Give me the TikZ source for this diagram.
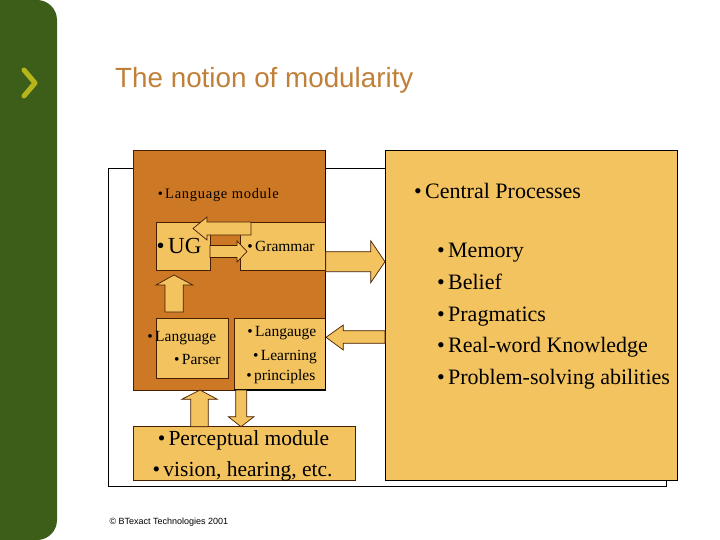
\documentclass[tikz,border=0pt]{standalone}
\usepackage{fontspec}
\setmainfont{Liberation Serif}
\newfontfamily\arialf{Liberation Sans}
\newfontfamily\spacedserif[LetterSpace=5]{Liberation Serif}
\definecolor{sidegreen}{RGB}{60,94,24}
\definecolor{chev}{RGB}{182,182,28}
\definecolor{titlecol}{RGB}{192,128,58}
\definecolor{modcol}{RGB}{204,120,36}
\definecolor{lightbox}{RGB}{243,195,96}
\definecolor{edgecol}{RGB}{70,30,0}
\newcommand\bul{\llap{\textbullet\hspace{0.15em}}}
\tikzset{
  blk/.style={fill=lightbox, draw=edgecol, line width=0.7pt, line join=miter},
  box/.style={fill=lightbox, draw=edgecol, line width=0.7pt},
  txt/.style={inner sep=0pt, anchor=base west, text=black},
}
\begin{document}
\begin{tikzpicture}[x=1pt,y=-1pt]
\useasboundingbox (0,0) rectangle (720,540);
\fill[white] (0,0) rectangle (720,540);
% sidebar
\fill[sidegreen, rounded corners=20pt] (-40,0) rectangle (57,540);
\draw[chev, line width=5pt, line cap=round, line join=round] (24,70) -- (35,83) -- (24,96);
% title
\node[txt, text=titlecol, font=\arialf\fontsize{27.8}{30}\selectfont] (title) at (115,87.3) {The notion of modularity};
% outer frame
\draw[black, line width=0.8pt] (108,168) rectangle (666,486);
% language module
\filldraw[fill=modcol, draw=edgecol, line width=0.7pt] (133,150) rectangle (325.7,390);
% central processes
\filldraw[fill=lightbox, draw=black, line width=0.8pt] (385,150) rectangle (677.7,480);
% inner boxes
\draw[box] (156,222.5) rectangle (210,270);
\draw[box] (240,222.5) rectangle (325.7,270);
\draw[box] (156,318) rectangle (228.3,378.3);
\draw[box] (234.3,318) rectangle (325.7,390);
\draw[black, line width=1.3pt] (325.7,150) -- (325.7,390) -- (234.3,390);
% perceptual
\draw[box] (133.3,426.7) rectangle (355.7,480.7);
% arrows
\draw[blk] (251,222) -- (207,222) -- (207,217) -- (193,228.5) -- (207,240) -- (207,235) -- (251,235) -- cycle;
\draw[blk] (210,245.5) -- (237,245.5) -- (237,241) -- (247,251.5) -- (237,262) -- (237,257.5) -- (210,257.5) -- cycle;
\draw[blk] (165,312) -- (165,285) -- (156,285) -- (174,275) -- (192.7,285) -- (183.3,285) -- (183.3,312) -- cycle;
\draw[blk] (325.7,251.7) -- (370.7,251.7) -- (370.7,240.7) -- (385,261.7) -- (370.7,282.7) -- (370.7,271.7) -- (325.7,271.7) -- cycle;
\draw[blk] (385,330.7) -- (343.3,330.7) -- (343.3,325) -- (326,337.3) -- (343.3,350) -- (343.3,343.3) -- (385,343.3) -- cycle;
\draw[blk] (190.7,426.7) -- (190.7,399.3) -- (181.7,399.3) -- (200,390) -- (217.3,399.3) -- (208.3,399.3) -- (208.3,426.7) -- cycle;
\draw[blk] (235.7,390) -- (235.7,416.7) -- (228.3,416.7) -- (241,426.7) -- (254,416.7) -- (246.7,416.7) -- (246.7,390) -- cycle;
% texts
\node[txt, font=\spacedserif\fontsize{14.5}{16}\selectfont] (lm) at (165,198.3) {\bul Language module};
\node[txt, font=\fontsize{23}{25}\selectfont] (ug) at (168,253.3) {\bul UG};
\node[txt, font=\fontsize{15.5}{17}\selectfont] (gr) at (255,251.7) {\bul Grammar};
\node[txt, font=\fontsize{15.5}{17}\selectfont] (lp1) at (155,341.7) {\bul Language};
\node[txt, font=\fontsize{15.5}{17}\selectfont] (lp2) at (181.7,364) {\bul Parser};
\node[txt, font=\fontsize{15.5}{17}\selectfont] (ll1) at (255,336.7) {\bul Langauge};
\node[txt, font=\fontsize{15.5}{17}\selectfont] (ll2) at (260.7,360) {\bul Learning};
\node[txt, font=\fontsize{15.5}{17}\selectfont] (ll3) at (254,380.7) {\bul principles};
\node[txt, font=\fontsize{21.5}{24}\selectfont] (pm1) at (168.3,445) {\bul Perceptual module};
\node[txt, font=\fontsize{21.5}{24}\selectfont] (pm2) at (163.3,476) {\bul vision, hearing, etc.};
\node[txt, font=\fontsize{22}{24}\selectfont] (cp) at (425,198.3) {\bul Central Processes};
\node[txt, font=\fontsize{22}{24}\selectfont] (c1) at (448,258) {\bul Memory};
\node[txt, font=\fontsize{22}{24}\selectfont] (c2) at (448,289.5) {\bul Belief};
\node[txt, font=\fontsize{22}{24}\selectfont] (c3) at (448,321) {\bul Pragmatics};
\node[txt, font=\fontsize{22}{24}\selectfont] (c4) at (448,352.5) {\bul Real-word Knowledge};
\node[txt, font=\fontsize{22}{24}\selectfont] (c5) at (448,384) {\bul Problem-solving abilities};
\node[txt, font=\arialf\fontsize{9}{10}\selectfont] (copy) at (109.3,524) {© BTexact Technologies 2001};
\end{tikzpicture}
\end{document}
